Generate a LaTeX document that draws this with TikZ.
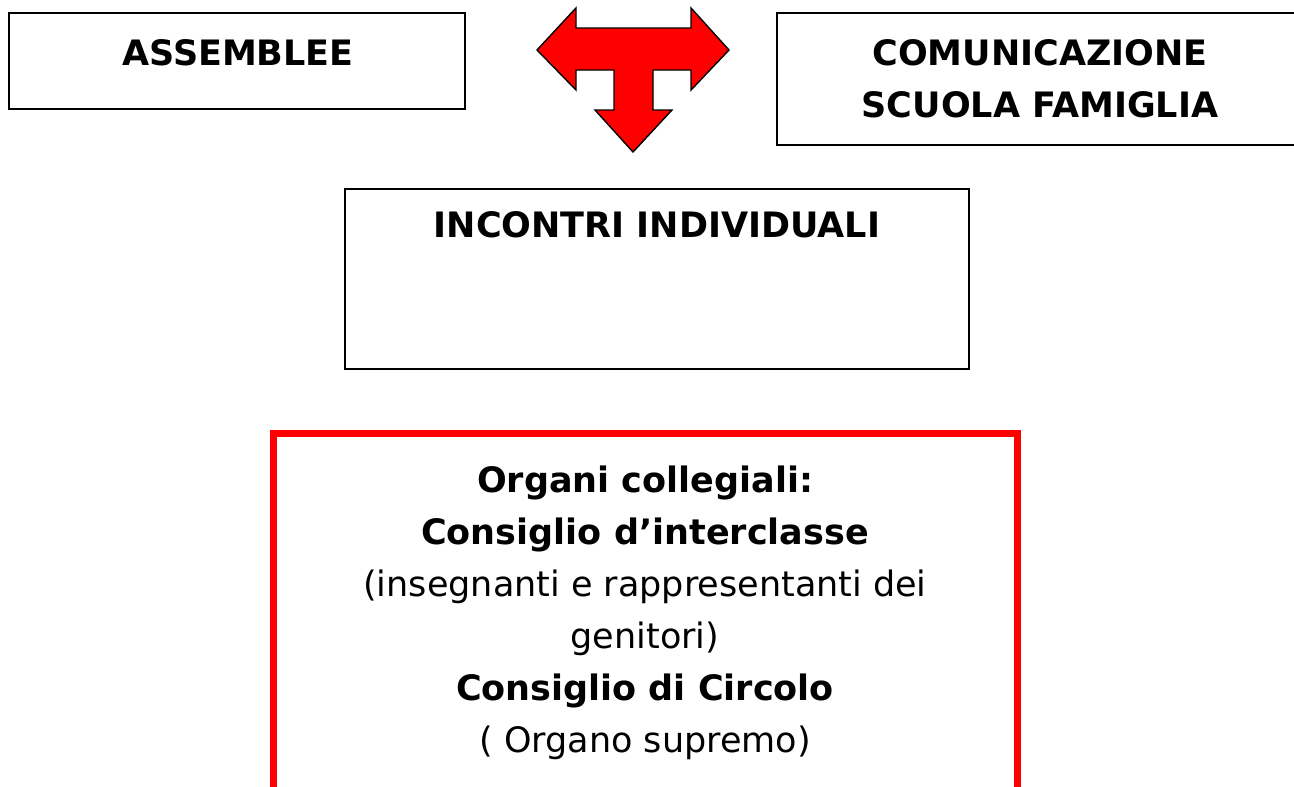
\documentclass[tikz,border=0pt]{standalone}
\usepackage{fontspec}
\setmainfont{DejaVu Sans}
\begin{document}
\begin{tikzpicture}[x=1pt,y=-1pt,
  txt/.style={anchor=base,inner sep=0pt,font=\fontsize{35}{42}\selectfont},
  btxt/.style={txt,font=\fontsize{35}{42}\selectfont\bfseries},
  bx/.style={draw=black,line width=1.8pt,fill=white},
  redbx/.style={draw=red,line width=7pt}]
\useasboundingbox (0,0) rectangle (1294,787);
\begin{scope}
\clip (0,0) rectangle (1294,787);
% boxes
\draw[bx] (9,13) rectangle (465,109);
\coordinate (assbox) at (237,61);
\draw[bx] (777,13) rectangle (1310,145);
\coordinate (combox) at (1040,79);
\draw[bx] (345,189) rectangle (969,369);
\coordinate (incbox) at (657,279);
\draw[redbx] (273,800) -- (273,433.5) -- (1017.5,433.5) -- (1017.5,800);
\coordinate (orgbox) at (645,600);
% T arrow
\draw[fill=red,draw=black,line width=1.4pt,line join=miter]
 (537,50) -- (576,8) -- (576,28) -- (691,28) -- (691,8) -- (729,50)
 -- (691,90) -- (691,70) -- (653,70) -- (653,110) -- (672,110) -- (633,152)
 -- (595,110) -- (614,110) -- (614,70) -- (576,70) -- (576,90) -- cycle;
\end{scope}
% texts
\node[btxt] (t1) at (238,65) {ASSEMBLEE};
\node[btxt] (t2) at (1040,65) {COMUNICAZIONE};
\node[btxt] (t3) at (1040,117) {SCUOLA FAMIGLIA};
\node[btxt] (t4) at (657,237) {INCONTRI INDIVIDUALI};
\node[btxt] (o1) at (645,492) {Organi collegiali:};
\node[btxt] (o2) at (645,544) {Consiglio d’interclasse};
\node[txt] (o3) at (645,596) {(insegnanti e rappresentanti dei};
\node[txt] (o4) at (645,648) {genitori)};
\node[btxt] (o5) at (645,700) {Consiglio di Circolo};
\node[txt] (o6) at (645,752) {( Organo supremo)};
\end{tikzpicture}
\end{document}
